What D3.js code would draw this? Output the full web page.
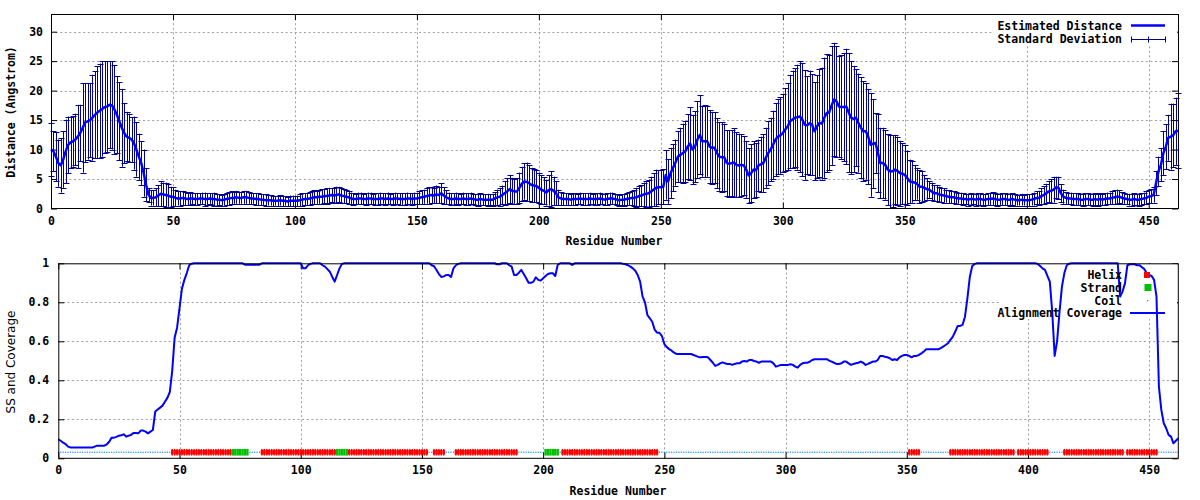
<!DOCTYPE html>
<html><head><meta charset="utf-8">
<script src="https://cdn.jsdelivr.net/npm/d3@7"></script>
<style>
body{margin:0;background:#fff}
svg text{font-family:"DejaVu Sans Mono",monospace;font-weight:bold;font-size:11.5px;fill:#000}
</style>
</head><body>
<svg id="chart" width="1200" height="500"></svg>
<script>
// ---------- DATA ----------
// Estimated distance per residue (index = residue number 0..462)
const meanDistance = [
10.0,9.7,8.8,7.7,7.3,8.3,9.7,10.8,11.2,11.4,
11.7,12.2,12.8,13.7,14.6,14.8,15.0,15.4,15.9,16.3,
16.6,16.9,17.2,17.3,17.6,17.5,16.8,15.9,14.8,13.7,
12.8,12.2,12.0,11.7,11.1,10.0,8.8,7.7,6.0,4.0,
2.3,1.8,1.8,1.9,2.2,2.5,2.4,2.3,2.2,2.0,
2.0,1.8,1.7,1.7,1.8,1.7,1.6,1.7,1.7,1.6,
1.6,1.7,1.7,1.6,1.6,1.7,1.6,1.6,1.5,1.5,
1.4,1.5,1.6,1.7,1.8,1.8,1.9,1.8,1.8,1.9,
1.9,1.8,1.7,1.7,1.6,1.6,1.5,1.5,1.4,1.4,
1.4,1.3,1.3,1.3,1.4,1.3,1.3,1.2,1.3,1.3,
1.3,1.3,1.4,1.5,1.6,1.6,1.7,1.8,1.9,1.9,
2.0,2.0,2.1,2.1,2.2,2.3,2.2,2.3,2.4,2.2,
2.1,2.0,1.9,1.7,1.6,1.6,1.7,1.7,1.6,1.6,
1.7,1.7,1.6,1.6,1.6,1.7,1.7,1.6,1.7,1.6,
1.6,1.7,1.7,1.6,1.6,1.6,1.7,1.7,1.6,1.7,
1.7,1.8,1.9,2.0,2.1,2.2,2.3,2.2,2.4,2.3,
2.6,2.2,1.9,1.7,1.6,1.6,1.7,1.6,1.6,1.7,
1.6,1.6,1.7,1.6,1.5,1.5,1.6,1.5,1.5,1.5,
1.5,1.5,1.7,1.9,2.0,2.3,2.6,2.9,3.3,3.0,
2.9,2.9,3.5,4.2,4.6,4.5,4.3,4.0,3.9,3.8,
3.5,3.2,3.0,2.7,3.1,3.3,3.0,2.6,1.9,1.7,
1.6,1.6,1.6,1.5,1.6,1.6,1.6,1.7,1.6,1.6,
1.6,1.7,1.6,1.6,1.6,1.7,1.6,1.5,1.6,1.7,
1.7,1.6,1.5,1.4,1.5,1.5,1.6,1.7,1.8,1.8,
1.9,2.1,2.2,2.4,2.5,2.6,2.9,3.2,3.5,3.6,
3.6,3.7,5.7,4.6,6.0,6.9,7.8,8.8,9.1,9.4,
9.7,10.5,11.0,10.0,10.5,11.7,12.5,11.4,11.4,11.4,
10.5,10.3,10.3,9.4,8.8,8.7,8.7,7.7,7.6,7.7,
7.8,7.4,7.3,7.4,7.3,6.6,5.6,6.0,6.6,6.5,
7.3,7.5,7.7,8.6,9.4,10.0,10.8,11.7,12.2,12.4,
12.8,13.4,13.9,14.8,15.1,15.4,15.5,15.6,15.1,14.2,
14.1,14.5,14.2,13.1,13.9,14.5,14.4,15.4,16.2,16.3,
17.5,18.5,18.2,17.3,17.2,17.2,17.3,16.3,15.4,15.2,
15.4,14.5,13.7,13.1,13.1,12.2,10.8,11.0,11.1,9.4,
7.7,7.7,7.4,6.6,6.3,6.3,6.6,6.4,6.0,5.9,
5.7,5.2,4.6,4.5,4.4,4.2,3.7,3.7,3.5,3.3,
3.2,2.9,2.6,2.6,2.4,2.3,2.2,2.1,2.0,1.9,
1.9,1.8,1.7,1.7,1.6,1.6,1.5,1.6,1.6,1.5,
1.6,1.6,1.5,1.5,1.6,1.6,1.7,1.6,1.5,1.5,
1.6,1.6,1.5,1.5,1.6,1.5,1.4,1.4,1.5,1.4,
1.4,1.4,1.5,1.6,1.8,1.8,2.1,2.3,2.6,2.9,
3.0,3.2,3.6,3.5,2.6,2.0,1.8,1.7,1.7,1.6,
1.6,1.6,1.5,1.5,1.6,1.6,1.5,1.5,1.6,1.5,
1.6,1.5,1.6,1.7,1.7,1.8,1.9,2.0,2.0,1.8,
1.7,1.6,1.5,1.5,1.6,1.5,1.5,1.6,1.7,1.8,
2.0,2.1,2.3,4.3,6.3,7.4,9.4,10.5,12.0,12.2,
12.4,13.1,13.2
];
// Standard deviation per residue
const stdDeviation = [
4.5,3.4,4.2,4.0,4.6,4.8,5.4,4.8,4.4,4.3,
4.4,5.4,4.8,7.6,6.7,6.5,6.3,7.3,7.4,7.8,
8.0,8.1,7.8,7.7,7.4,7.5,7.5,6.5,6.6,6.6,
5.1,4.2,4.1,3.8,4.5,4.6,3.9,3.7,4.0,2.8,
1.2,1.3,1.3,1.5,1.8,2.1,2.0,2.1,1.9,1.7,
1.6,1.4,1.2,1.3,1.2,1.1,1.0,1.1,1.0,1.0,
1.0,0.9,1.0,1.1,1.0,0.9,1.0,1.1,1.0,0.9,
0.9,1.0,1.0,1.1,1.1,1.0,1.1,1.0,1.0,1.1,
1.1,1.0,1.0,0.9,1.0,1.0,0.9,0.9,1.0,0.9,
0.9,0.9,0.8,0.9,0.9,0.9,0.8,0.8,0.9,0.9,
0.9,0.9,1.0,1.1,1.0,1.0,1.1,1.1,1.2,1.1,
1.2,1.3,1.2,1.3,1.3,1.2,1.3,1.4,1.3,1.2,
1.2,1.1,1.1,1.0,1.0,0.9,1.0,1.0,0.9,1.0,
1.0,1.0,0.9,1.0,1.0,1.0,0.9,1.0,1.0,0.9,
1.0,1.0,0.9,1.0,1.0,1.0,1.0,0.9,1.0,1.0,
1.0,1.1,1.2,1.2,1.3,1.4,1.4,1.3,1.5,1.4,
1.7,1.4,1.2,1.0,1.0,1.0,1.0,1.0,0.9,1.0,
1.0,1.0,1.0,0.9,0.9,1.0,1.0,0.9,0.9,1.0,
0.9,1.0,1.1,1.3,1.5,1.6,2.0,2.2,2.4,2.2,
2.1,2.2,2.6,2.9,3.1,3.3,3.0,2.9,2.8,2.7,
2.6,2.5,2.3,2.2,2.6,3.0,2.4,2.0,1.3,1.1,
1.0,1.0,1.0,0.9,1.0,1.0,0.9,1.0,1.0,1.0,
1.0,1.0,0.9,1.0,1.0,1.0,0.9,0.9,1.0,1.0,
1.0,0.9,0.9,0.9,0.9,1.0,1.0,1.1,1.2,1.3,
1.6,1.7,1.8,2.0,2.2,2.3,2.5,2.8,3.1,2.9,
2.9,3.0,4.2,3.8,4.3,4.0,3.9,4.3,4.6,5.0,
5.2,5.5,6.2,5.9,6.0,6.5,6.7,6.0,6.1,6.0,
6.2,6.1,6.0,5.9,5.8,5.9,5.7,5.6,5.7,5.6,
5.8,5.5,5.4,5.2,5.0,4.8,4.6,4.9,4.8,4.6,
4.4,4.7,4.9,5.1,5.4,5.4,5.8,6.2,6.4,6.5,
6.6,7.0,7.4,7.9,8.3,8.4,8.9,9.4,9.6,9.3,
8.3,8.9,8.6,8.3,8.7,9.1,9.5,10.2,10.0,9.8,
10.1,9.6,9.4,8.6,8.8,9.2,9.8,10.1,9.6,9.0,
8.2,8.4,8.6,8.5,8.2,8.1,8.8,7.6,5.1,6.6,
6.0,6.0,5.9,6.0,6.2,6.1,5.9,5.8,5.5,5.2,
5.0,4.6,3.7,3.5,3.0,2.7,2.8,2.6,2.2,1.8,
1.4,1.5,1.4,1.4,1.3,1.2,1.2,1.1,1.1,1.0,
1.0,1.0,0.9,1.0,1.0,0.9,1.0,1.0,0.9,1.0,
1.0,1.0,1.0,0.9,1.0,1.0,1.1,1.0,1.0,0.9,
1.0,1.0,0.9,1.0,1.0,1.0,0.9,0.9,1.0,0.9,
1.0,1.0,1.0,1.1,1.1,1.2,1.3,1.5,1.6,1.8,
2.0,2.2,1.8,1.9,1.5,1.2,1.0,1.0,1.0,1.0,
1.0,1.0,0.9,1.0,1.0,1.0,0.9,1.0,1.0,1.0,
1.0,0.9,1.0,1.0,1.0,1.1,1.2,1.2,1.1,1.0,
1.0,0.9,1.0,1.0,1.0,0.9,1.0,1.0,1.0,1.1,
1.1,1.2,1.3,2.0,2.5,2.8,3.7,3.8,3.9,5.6,
5.4,5.7,6.4
];
// Alignment coverage per residue
const coverage = [
.097,.09,.08,.073,.06,.056,.055,.055,.055,.055,
.055,.055,.055,.055,.055,.06,.065,.065,.065,.065,
.072,.085,.106,.106,.11,.116,.118,.123,.111,.116,
.12,.13,.13,.128,.142,.142,.137,.128,.137,.145,
.24,.25,.26,.27,.29,.31,.34,.45,.62,.67,
.77,.87,.915,.95,.99,.998,1,1,1,1,
1,1,1,1,1,1,1,1,1,1,
1,1,1,1,1,1,1,.993,.993,.993,
.993,.993,.993,.993,1,1,1,1,1,1,
1,1,1,1,1,1,1,1,1,1,
1,.974,.974,.99,.997,1,1,1,1,.99,
.983,.97,.957,.93,.906,.94,.974,.997,1,1,
1,1,1,1,1,1,1,1,1,1,
1,1,1,1,1,1,1,1,1,1,
1,1,1,1,1,1,1,1,1,1,
1,1,1,1,.99,.985,.966,.945,.93,.933,
.94,.94,.93,.974,.99,.997,1,1,1,1,
1,1,1,1,1,1,1,1,1,1,
1,.995,.995,1,1,1,.99,.983,.94,.94,
.952,.966,.945,.923,.9,.9,.906,.928,.915,.911,
.923,.935,.945,.949,.949,.935,.991,1,1,1,
1,1,.992,1,1,1,1,1,1,1,
1,1,1,1,1,1,1,1,1,1,
1,1,1,.997,.995,.99,.983,.974,.962,.94,
.906,.83,.80,.735,.718,.70,.66,.644,.644,.627,
.586,.57,.56,.552,.542,.535,.535,.535,.535,.535,
.535,.535,.53,.525,.52,.518,.52,.52,.518,.504,
.49,.474,.479,.487,.492,.487,.484,.484,.479,.484,
.487,.487,.496,.499,.496,.504,.504,.499,.496,.49,
.496,.496,.496,.496,.496,.487,.47,.474,.479,.479,
.479,.479,.482,.479,.47,.465,.479,.487,.49,.49,
.496,.504,.508,.508,.508,.508,.508,.508,.501,.496,
.49,.484,.484,.487,.496,.496,.487,.479,.484,.487,
.49,.496,.49,.479,.484,.49,.496,.496,.504,.525,
.525,.521,.518,.513,.504,.508,.504,.518,.525,.53,
.53,.525,.518,.525,.525,.53,.538,.547,.559,.559,
.559,.559,.559,.559,.565,.573,.581,.59,.607,.624,
.65,.679,.679,.684,.726,.82,.93,.986,.997,1,
1,1,1,1,1,1,1,1,1,1,
1,1,1,1,1,1,1,1,1,1,
1,1,1,1,.997,.986,.974,.966,.935,.906,
.75,.525,.6,.75,.88,.95,.99,.998,1,1,
1,1,1,1,1,1,1,1,1,1,
1,1,1,1,1,1,1,1,.83,.855,
.897,.99,.995,.995,.995,.99,.99,.98,.97,.949,
.94,.935,.915,.83,.367,.248,.18,.154,.12,.111,
.077,.09,.103
];
// Secondary structure segments: [type, first residue, last residue]; everything else is coil
const ssSegments = [
["H",47,71],["E",72,78],["H",84,114],["E",115,119],["H",120,152],["H",155,159],
["H",164,189],["E",201,206],["H",208,247],["H",351,355],["H",368,394],["H",396,408],
["H",415,439],["H",441,453]
];
const ssLevel = 0.031;
const xTicks = [0,50,100,150,200,250,300,350,400,450];
const topYTicks = [0,5,10,15,20,25,30];
const bottomYTicks = [0,0.2,0.4,0.6,0.8,1];
const bottomYTickLabels = ["0","0.2","0.4","0.6","0.8","1"];
const topLegend = ["Estimated Distance","Standard Deviation"];
const bottomLegend = ["Helix","Strand","Coil","Alignment Coverage"];

// ---------- DRAW ----------
const svg = d3.select("#chart");
const nRes = meanDistance.length;
const ss = meanDistance.map(() => "C");
ssSegments.forEach(([t,a,b]) => { for (let r=a; r<=b; r++) ss[r]=t; });

const GRID = "#a0a0a0";
function panel(cfg){
  const {x, y, yTicks, yLabels, pad} = cfg;
  const g = svg.append("g");
  const [x0,x1] = x.range(), [y0,y1] = y.range();
  // grid
  const grid = g.append("g").attr("stroke",GRID).attr("stroke-width",1).attr("stroke-dasharray","2,2.6");
  xTicks.filter(v=>v>0).forEach(v=>grid.append("line").attr("x1",Math.round(x(v))+0.5).attr("x2",Math.round(x(v))+0.5).attr("y1",y1).attr("y2",y0));
  yTicks.filter(v=>v>y.domain()[0] && v<y.domain()[1]).forEach(v=>grid.append("line").attr("y1",Math.round(y(v))+0.5).attr("y2",Math.round(y(v))+0.5).attr("x1",x0).attr("x2",x1));
  // axes with inward ticks on all sides
  const ax = d3.axisBottom(x).tickValues(xTicks).tickSize(-6).tickPadding(8).tickFormat(d3.format("d"));
  const ay = d3.axisLeft(y).tickValues(yTicks).tickSize(-6).tickPadding(pad).tickFormat((d,i)=>yLabels[i]);
  const gx = g.append("g").attr("transform",`translate(0,${y0})`).call(ax);
  const gxt = g.append("g").attr("transform",`translate(0,${y1})`).call(d3.axisTop(x).tickValues(xTicks).tickSize(-6).tickFormat(""));
  const gy = g.append("g").attr("transform",`translate(${x0},0)`).call(ay);
  const gyr = g.append("g").attr("transform",`translate(${x1},0)`).call(d3.axisRight(y).tickValues(yTicks).tickSize(-6).tickFormat(""));
  [gx,gxt,gy,gyr].forEach(a=>{a.select(".domain").remove(); a.attr("font-family",null).attr("font-size",null);
     a.selectAll("line").attr("stroke","#000");});
  return g;
}

// ---- top panel ----
const xT = d3.scaleLinear().domain([0,462]).range([51,1178]);
const yT = d3.scaleLinear().domain([0,33]).range([208.5,14]);
panel({x:xT, y:yT, yTicks:topYTicks, yLabels:topYTicks.map(String), pad:8});
// legend background
svg.append("rect").attr("x",993).attr("y",15).attr("width",184).attr("height",30).attr("fill","#fff");
// error bars
const ERR = "#000094";
const eb = svg.append("g").attr("stroke",ERR).attr("stroke-width",1).attr("fill","none");
meanDistance.forEach((m,i)=>{
  const xx = Math.round(xT(i))+0.5, lo = yT(Math.max(0,m-stdDeviation[i])), hi = yT(m+stdDeviation[i]);
  eb.append("path").attr("d",`M${xx},${lo}V${hi}M${xx-3},${Math.round(hi)+0.5}H${xx+3}M${xx-3},${Math.round(lo)+0.5}H${xx+3}`);
});
svg.append("path").datum(meanDistance)
  .attr("d", d3.line().x((d,i)=>xT(i)).y(d=>yT(d)))
  .attr("fill","none").attr("stroke","#0000ff").attr("stroke-width",2.5).attr("stroke-linejoin","round");
// border
svg.append("rect").attr("x",51.5).attr("y",14.5).attr("width",1178-51).attr("height",208.5-14.5).attr("fill","none").attr("stroke","#000");
// legend text
svg.append("text").attr("x",1122).attr("y",29.5).attr("text-anchor","end").text(topLegend[0]);
svg.append("text").attr("x",1122).attr("y",43).attr("text-anchor","end").text(topLegend[1]);
svg.append("line").attr("x1",1131).attr("x2",1165).attr("y1",25.5).attr("y2",25.5).attr("stroke","#0000ff").attr("stroke-width",2.5);
svg.append("path").attr("d","M1131.5,39.5H1165.5M1131.5,36.5V42.5M1165.5,36.5V42.5M1148.5,36.5V42.5").attr("stroke",ERR).attr("fill","none");
// axis titles
svg.append("text").attr("x",614).attr("y",245).attr("text-anchor","middle").text("Residue Number");
svg.append("text").attr("transform","translate(15,112) rotate(-90)").attr("text-anchor","middle").text("Distance (Angstrom)");

// ---- bottom panel ----
const xB = d3.scaleLinear().domain([0,462]).range([58.3,1178.3]);
const yB = d3.scaleLinear().domain([0,1]).range([458.3,263.3]);
panel({x:xB, y:yB, yTicks:bottomYTicks, yLabels:bottomYTickLabels, pad:9});
svg.append("rect").attr("x",999).attr("y",264).attr("width",178).attr("height",55).attr("fill","#fff");
const ssG = svg.append("g");
const yss = yB(ssLevel);
const step = xB(1)-xB(0);
ss.forEach((t,i)=>{
  const xc = xB(i);
  if (t==="H"){
    ssG.append("rect").attr("x",xc-step/2).attr("y",yss-2.3).attr("width",step).attr("height",4.6).attr("fill","#ff0000");
    ssG.append("rect").attr("x",xc-0.7).attr("y",yss-3.3).attr("width",1.4).attr("height",6.6).attr("fill","#ff0000");
  } else if (t==="E"){
    ssG.append("rect").attr("x",xc-step/2).attr("y",yss-3.3).attr("width",step).attr("height",6.6).attr("fill","#00c000");
  } else {
    ssG.append("rect").attr("x",xc-0.6).attr("y",yss-0.6).attr("width",1.2).attr("height",1.2).attr("fill","#0a8cff");
  }
});
svg.append("path").datum(coverage)
  .attr("d", d3.line().x((d,i)=>xB(i)).y(d=>yB(d)))
  .attr("fill","none").attr("stroke","#0000ff").attr("stroke-width",2).attr("stroke-linejoin","round");
svg.append("rect").attr("x",58.8).attr("y",263.8).attr("width",1178.3-58.8).attr("height",458.3-263.8).attr("fill","none").attr("stroke","#000");
// legend
const ly = [275,287.7,300.6,313.3];
bottomLegend.forEach((t,i)=>svg.append("text").attr("x",1122).attr("y",ly[i]+4).attr("text-anchor","end").text(t));
svg.append("path").attr("d","M1144,272H1150V278H1144Z").attr("fill","#ff0000");
svg.append("rect").attr("x",1144.5).attr("y",284).attr("width",7).attr("height",7).attr("fill","#00c000");
svg.append("rect").attr("x",1147).attr("y",300).attr("width",1.2).attr("height",1.2).attr("fill","#0a8cff");
svg.append("line").attr("x1",1130).attr("x2",1165).attr("y1",313).attr("y2",313).attr("stroke","#0000ff").attr("stroke-width",2);
// axis titles
svg.append("text").attr("x",618).attr("y",495).attr("text-anchor","middle").text("Residue Number");
svg.append("text").attr("transform","translate(15,362) rotate(-90)").attr("text-anchor","middle")
  .style("font-family","'DejaVu Sans',sans-serif").style("font-weight","normal").style("font-size","12px").text("SS and Coverage");
</script>
</body></html>
